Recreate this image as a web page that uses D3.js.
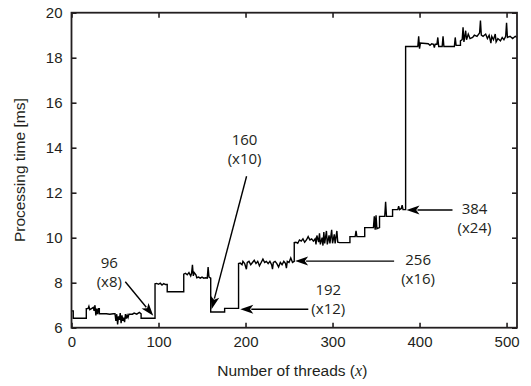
<!DOCTYPE html>
<html>
<head>
<meta charset="utf-8">
<script src="https://cdn.jsdelivr.net/npm/d3@7"></script>
<style>
  body { margin: 0; background: #fff; }
</style>
</head>
<body>
<svg id="chart"></svg>
<script>
// [threads, processing time in ms]
const series = [
  [0,6.75],[2,6.75],[2,6.42],[17,6.42],[17,6.85],[19,6.85],[20,6.95],[21,6.8],[23,6.85],[25,6.9],
  [26,6.75],[27,7.0],[28,6.55],[29,6.85],[30,6.6],[31,6.85],[32,6.85],[32,6.62],[40,6.62],[44,6.6],
  [48,6.62],[50,6.62],[51,6.3],[52,6.6],[53,6.15],[54,6.5],[55,6.35],[56,6.65],[57,6.2],[58,6.55],
  [59,6.3],[60,6.45],[61,6.25],[62,6.6],[63,6.4],[64,6.55],[65,6.45],[66,6.6],[70,6.6],[72,6.65],
  [75,6.6],[78,6.68],[80,6.62],[80,6.42],[96,6.42],[96,7.95],[98,7.97],[100,7.93],[102,7.98],[104,7.9],
  [106,7.96],[108,7.92],[110,7.92],[110,7.6],[120,7.6],[129,7.6],[129,8.38],[131,8.42],[133,8.35],[135,8.45],
  [137,8.3],[138,8.42],[139,8.8],[140,8.3],[141,8.45],[143,8.35],[144,8.22],[146,8.25],[148,8.2],[150,8.25],
  [152,8.2],[154,8.22],[156,8.2],[157,8.7],[158,8.25],[160,8.2],[160,6.7],[176,6.7],[176,6.86],[192,6.86],
  [192,8.85],[194,8.87],[196,8.8],[197,8.95],[199,8.85],[201,8.6],[202,8.9],[204,8.95],[206,8.8],[208,8.9],
  [210,9.0],[212,8.85],[214,8.95],[216,8.75],[218,8.9],[220,9.05],[222,8.9],[224,8.95],[226,8.85],[228,8.95],
  [230,8.8],[231,8.6],[232,8.9],[234,8.95],[236,8.85],[238,8.7],[240,8.9],[242,8.8],[244,8.95],[246,8.85],
  [247,8.65],[248,8.95],[250,8.9],[252,9.1],[254,8.9],[256,8.95],[256,9.78],[258,9.8],[260,9.75],[262,9.9],
  [264,9.85],[266,9.95],[268,9.8],[270,9.9],[272,10.05],[274,9.9],[276,9.95],[278,9.85],[280,9.95],[281,9.7],
  [282,10.1],[284,9.8],[285,10.2],[286,9.7],[288,10.0],[289,9.65],[290,10.25],[291,9.75],[293,10.3],[294,9.7],
  [296,10.1],[297,9.75],[299,10.35],[300,9.75],[302,10.15],[303,9.75],[305,10.3],[306,9.8],[308,9.78],[320,9.78],
  [320,10.05],[326,10.05],[327,10.3],[328,10.05],[337,10.05],[337,10.45],[347,10.45],[348,10.95],[349,10.35],[350,11.0],
  [351,10.4],[354,10.45],[354,10.95],[360,10.95],[361,11.6],[362,10.95],[369,10.95],[369,11.25],[375,11.25],[376,11.4],
  [377,11.25],[379,11.3],[380,11.45],[381,11.25],[384,11.25],[384,18.5],[398,18.5],[399,18.95],[400,18.4],[401,18.65],
  [410,18.62],[412,18.55],[414,18.62],[416,18.6],[417,18.45],[418,18.6],[420,18.6],[421,18.9],[422,18.5],[426,18.5],
  [427,18.95],[428,18.5],[440,18.5],[441,18.9],[442,18.55],[447,18.55],[447,18.75],[449,18.8],[450,19.35],[451,18.7],
  [453,19.2],[454,18.8],[456,19.05],[458,18.85],[461,18.9],[463,19.0],[466,18.95],[469,19.1],[470,19.65],[471,19.0],
  [473,18.95],[476,19.05],[478,18.85],[480,19.0],[482,18.65],[483,18.95],[485,18.8],[487,19.05],[488,18.7],[490,18.85],
  [493,18.75],[495,18.9],[497,18.8],[499,18.95],[500,19.55],[501,18.9],[504,18.95],[507,18.85],[510,18.95],[512,18.9]
];

const xTicks = [0, 100, 200, 300, 400, 500];
const yTicks = [6, 8, 10, 12, 14, 16, 18, 20];

// callouts: thread count, split factor, where the arrow points (data units)
const annThreads = ["96", "160", "192", "256", "384"];
const annFactor = ["(x8)", "(x10)", "(x12)", "(x16)", "(x24)"];
const annTipX = [94, 161, 194, 257, 385];
const annTipY = [6.53, 6.82, 6.82, 8.96, 11.23];

const width = 531, height = 386;
const margin = { top: 12.7, right: 14, bottom: 58.3, left: 71.5 };

// tail of the arrow and centre of the label, offset from the tip in px
const annLayout = [
  { tail: [-28, -34], text: [-44, -53] },
  { tail: [35, -133], text: [33, -170] },
  { tail: [68, 0], text: [88, -20] },
  { tail: [99, 0], text: [123, -1] },
  { tail: [46, 0], text: [68, -1] }
];

const svg = d3.select("#chart")
  .attr("width", width)
  .attr("height", height);

const x = d3.scaleLinear().domain([0, 512]).range([margin.left, width - margin.right]);
const y = d3.scaleLinear().domain([6, 20]).range([height - margin.bottom, margin.top]);

const tickFont = "'Liberation Sans', Arial, sans-serif";
const axisColor = "#231f20";

// the data line
svg.append("path")
  .datum(series)
  .attr("fill", "none")
  .attr("stroke", "#000")
  .attr("stroke-width", 1.4)
  .attr("stroke-linejoin", "miter")
  .attr("d", d3.line().x(d => x(d[0])).y(d => y(d[1])));

// axes: ticks point inward, mirrored on top and right
const axisB = d3.axisBottom(x).tickValues(xTicks).tickSizeInner(-5).tickSizeOuter(0).tickPadding(9);
const axisT = d3.axisTop(x).tickValues(xTicks).tickSizeInner(-5).tickSizeOuter(0).tickFormat("");
const axisL = d3.axisLeft(y).tickValues(yTicks).tickSizeInner(-5).tickSizeOuter(0).tickPadding(9);
const axisR = d3.axisRight(y).tickValues(yTicks).tickSizeInner(-5).tickSizeOuter(0).tickFormat("");

function styleAxis(g) {
  g.select(".domain").remove();
  g.selectAll(".tick line").attr("stroke", axisColor).attr("stroke-width", 1.6);
  g.selectAll(".tick text")
    .attr("fill", axisColor)
    .style("font-family", tickFont)
    .style("font-size", "15px");
}

svg.append("g").attr("transform", `translate(0,${y(6)})`).call(axisB).call(styleAxis);
svg.append("g").attr("transform", `translate(0,${y(20)})`).call(axisT).call(styleAxis);
svg.append("g").attr("transform", `translate(${x(0)},0)`).call(axisL).call(styleAxis);
svg.append("g").attr("transform", `translate(${x(512)},0)`).call(axisR).call(styleAxis);

// frame
svg.append("rect")
  .attr("x", x(0)).attr("y", y(20))
  .attr("width", x(512) - x(0)).attr("height", y(6) - y(20))
  .attr("fill", "none")
  .attr("stroke", axisColor)
  .attr("stroke-width", 1.8);

// axis titles
svg.append("text")
  .attr("x", (x(0) + x(512)) / 2 - 2)
  .attr("y", 376)
  .attr("text-anchor", "middle")
  .style("font-family", tickFont)
  .style("font-size", "15.5px")
  .attr("fill", axisColor)
  .call(t => {
    t.append("tspan").text("Number of threads (");
    t.append("tspan").text("x").style("font-family", "'Liberation Serif', serif").style("font-style", "italic").style("font-size", "16px");
    t.append("tspan").text(")");
  });

svg.append("text")
  .attr("transform", `translate(25,${(y(6) + y(20)) / 2}) rotate(-90)`)
  .attr("text-anchor", "middle")
  .style("font-family", tickFont)
  .style("font-size", "15.5px")
  .attr("fill", axisColor)
  .text("Processing time [ms]");

// callouts with arrows
const annFont = "'Open Sans', 'Noto Sans', sans-serif";
annThreads.forEach((label, i) => {
  const tx = x(annTipX[i]), ty = y(annTipY[i]);
  const lay = annLayout[i];
  const sx = tx + lay.tail[0], sy = ty + lay.tail[1];
  const len = Math.hypot(tx - sx, ty - sy);
  const ux = (tx - sx) / len, uy = (ty - sy) / len;
  const headLen = 13, headW = 9;
  const bx = tx - ux * headLen, by = ty - uy * headLen;

  svg.append("line")
    .attr("x1", sx).attr("y1", sy)
    .attr("x2", bx + ux * 2).attr("y2", by + uy * 2)
    .attr("stroke", "#000")
    .attr("stroke-width", 1.4);

  svg.append("path")
    .attr("d", d3.line()([
      [tx, ty],
      [bx - uy * headW / 2, by + ux * headW / 2],
      [tx - ux * headLen * 0.75, ty - uy * headLen * 0.75],
      [bx + uy * headW / 2, by - ux * headW / 2]
    ]) + "Z")
    .attr("fill", "#000");

  const cx = tx + lay.text[0], cy = ty + lay.text[1];
  const g = svg.append("text")
    .attr("text-anchor", "middle")
    .style("font-family", annFont)
    .style("font-size", "15px")
    .attr("fill", "#231f20");
  g.append("tspan").attr("x", cx).attr("y", cy).attr("dy", "0.35em").text(label);
  g.append("tspan").attr("x", cx).attr("y", cy + 19).attr("dy", "0.35em").text(annFactor[i]);
});
</script>
</body>
</html>
